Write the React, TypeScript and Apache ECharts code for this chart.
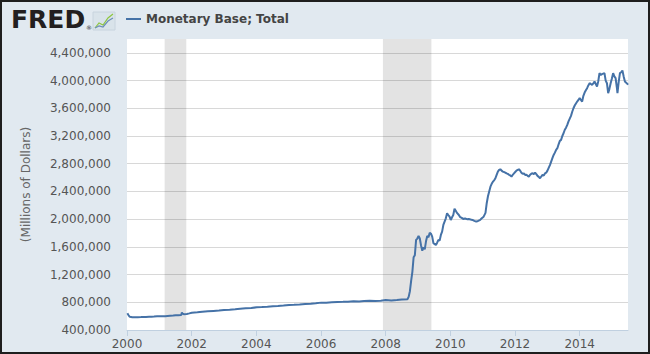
import React, { useEffect, useRef } from "react";
import * as echarts from "echarts";

const seriesName = "Monetary Base; Total";
const yAxisName = "(Millions of Dollars)";

const dates: string[] = [
  "2000-01-05","2000-01-19","2000-02-02","2000-03-01","2000-04-05","2000-05-03","2000-06-07","2000-07-05","2000-08-02","2000-09-06","2000-10-04","2000-11-01","2000-12-06",
  "2001-01-03","2001-02-07","2001-03-07","2001-04-04","2001-05-02","2001-06-06","2001-07-04","2001-08-01","2001-09-05","2001-09-12","2001-09-19","2001-10-03","2001-11-07","2001-12-05",
  "2002-01-02","2002-03-06","2002-05-01","2002-07-03","2002-09-04","2002-11-06",
  "2003-01-01","2003-03-05","2003-05-07","2003-07-02","2003-09-03","2003-11-05",
  "2004-01-07","2004-03-03","2004-05-05","2004-07-07","2004-09-01","2004-11-03",
  "2005-01-05","2005-03-02","2005-05-04","2005-07-06","2005-09-07","2005-11-02",
  "2006-01-04","2006-03-01","2006-05-03","2006-07-05","2006-09-06","2006-11-01",
  "2007-01-03","2007-03-07","2007-05-02","2007-07-04","2007-09-05","2007-11-07",
  "2008-01-02","2008-03-05","2008-05-07","2008-07-02","2008-09-03","2008-09-17","2008-10-01","2008-10-15","2008-10-29","2008-11-12","2008-11-26","2008-12-10","2008-12-24",
  "2009-01-07","2009-01-21","2009-02-04","2009-02-18","2009-03-04","2009-03-18","2009-04-01","2009-04-15","2009-04-29","2009-05-13","2009-05-27","2009-06-10","2009-06-24",
  "2009-07-08","2009-07-22","2009-08-05","2009-08-19","2009-09-02","2009-09-16","2009-09-30","2009-10-14","2009-10-28","2009-11-11","2009-11-25","2009-12-09","2009-12-23",
  "2010-01-06","2010-01-20","2010-02-03","2010-02-17","2010-03-03","2010-03-17","2010-04-07","2010-04-21","2010-05-05","2010-05-26","2010-06-16","2010-07-07","2010-07-28",
  "2010-08-18","2010-09-08","2010-09-29","2010-10-20","2010-11-10","2010-12-01","2010-12-22",
  "2011-01-12","2011-02-02","2011-02-16","2011-03-02","2011-03-16","2011-03-30","2011-04-13","2011-04-27","2011-05-11","2011-05-25","2011-06-08","2011-06-22","2011-07-06",
  "2011-07-20","2011-08-03","2011-08-17","2011-08-31","2011-09-14","2011-09-28","2011-10-12","2011-10-26","2011-11-09","2011-11-23","2011-12-07","2011-12-21",
  "2012-01-04","2012-01-18","2012-02-01","2012-02-15","2012-02-29","2012-03-14","2012-03-28","2012-04-11","2012-04-25","2012-05-09","2012-05-23","2012-06-06","2012-06-20",
  "2012-07-04","2012-07-18","2012-08-01","2012-08-15","2012-08-29","2012-09-12","2012-09-26","2012-10-10","2012-10-24","2012-11-07","2012-11-21","2012-12-05","2012-12-19",
  "2013-01-02","2013-01-16","2013-01-30","2013-02-13","2013-02-27","2013-03-13","2013-03-27","2013-04-10","2013-04-24","2013-05-08","2013-05-22","2013-06-05","2013-06-19",
  "2013-07-03","2013-07-17","2013-07-31","2013-08-14","2013-08-28","2013-09-11","2013-09-25","2013-10-09","2013-10-23","2013-11-06","2013-11-20","2013-12-04","2013-12-18",
  "2014-01-01","2014-01-15","2014-01-29","2014-02-12","2014-02-26","2014-03-12","2014-03-26","2014-04-09","2014-04-23","2014-05-07","2014-05-21","2014-06-04","2014-06-18",
  "2014-07-02","2014-07-16","2014-07-30","2014-08-13","2014-08-27","2014-09-10","2014-09-24","2014-10-08","2014-10-22","2014-11-05","2014-11-19","2014-12-03","2014-12-17","2014-12-31",
  "2015-01-14","2015-01-28","2015-02-11","2015-02-25","2015-03-04","2015-03-18","2015-04-01","2015-04-15","2015-04-29","2015-05-13","2015-05-27","2015-06-10","2015-06-24","2015-07-01"
];

const values: number[] = [
  641000,612000,590000,584000,583000,585000,586000,589000,588000,590000,591000,594000,598000,
  600000,598000,600000,603000,606000,609000,612000,614000,616000,652000,638000,628000,632000,640000,
  650000,655000,662000,670000,675000,680000,
  690000,694000,700000,708000,713000,718000,
  728000,731000,737000,744000,748000,754000,
  762000,763000,768000,775000,779000,785000,
  795000,794000,800000,805000,806000,808000,
  816000,813000,818000,822000,820000,823000,
  832000,827000,832000,840000,845000,878000,960000,1110000,1240000,1450000,1480000,1700000,1720000,
  1757000,1720000,1620000,1545000,1594000,1565000,1680000,1757000,1740000,1805000,1790000,1747000,1652000,
  1640000,1627000,1660000,1700000,1690000,1772000,1820000,1916000,1964000,2012000,2085000,2060000,2036000,
  1988000,2027000,2060000,2150000,2120000,2090000,2060000,2030000,2022000,2003000,2010000,2000000,2003000,
  1995000,1988000,1975000,1964000,1974000,1985000,2013000,
  2036000,2090000,2230000,2330000,2400000,2469000,2510000,2541000,2560000,2590000,2640000,2686000,2710000,
  2720000,2700000,2686000,2680000,2671000,2660000,2653000,2640000,2630000,2614000,2640000,2660000,
  2680000,2700000,2710000,2720000,2700000,2670000,2653000,2660000,2638000,2640000,2625000,2614000,2640000,
  2655000,2663000,2650000,2672000,2650000,2624000,2610000,2590000,2615000,2638000,2630000,2660000,2671000,
  2700000,2740000,2780000,2830000,2880000,2927000,2960000,3000000,3024000,3080000,3130000,3144000,3200000,
  3240000,3290000,3320000,3360000,3410000,3450000,3490000,3550000,3601000,3640000,3670000,3697000,3720000,
  3746000,3720000,3697000,3780000,3827000,3860000,3890000,3930000,3962000,3950000,3938000,3960000,3986000,
  3950000,3914000,3990000,4107000,4080000,4093000,4100000,4107000,4000000,3962000,3818000,3880000,3962000,4030000,
  4107000,4060000,4035000,3900000,3818000,3980000,4107000,4120000,4145000,4060000,3986000,3970000,3952000,3940000
];

const recessions: [string, string][] = [
  ["2001-03-01", "2001-11-01"],
  ["2007-12-01", "2009-06-01"],
];

const xMin = "2000-01-01";
const xMax = "2015-07-01";
const yMin = 400000;
const yMax = 4600000;
const yStep = 400000;

export default function App() {
  const ref = useRef<HTMLDivElement>(null);
  useEffect(() => {
    if (!ref.current) return;
    const chart = echarts.init(ref.current, null, { renderer: "svg" });
    const font = "DejaVu Sans";
    const data = dates.map((d, i) => [d, values[i]]);
    chart.setOption({
      animation: false,
      backgroundColor: "#e1e9f0",
      textStyle: { fontFamily: font },
      grid: {
        left: 127, right: 22, top: 39, bottom: 24,
        show: true, backgroundColor: "#ffffff", borderWidth: 0,
      },
      legend: {
        left: 126, top: 13, padding: 0, icon: "rect", itemWidth: 15, itemHeight: 2,
        itemGap: 10,
        selectedMode: false,
        textStyle: { fontFamily: font, fontWeight: "bold", fontSize: 12, color: "#444" },
        data: [seriesName],
      },
      xAxis: {
        type: "time",
        min: xMin, max: xMax,
        minInterval: 2 * 365 * 24 * 3600 * 1000,
        maxInterval: 2 * 366 * 24 * 3600 * 1000,
        axisLine: { show: true, lineStyle: { color: "#c0d0e0", width: 1 } },
        axisTick: { show: true, length: 6, lineStyle: { color: "#c0d0e0" } },
        splitLine: { show: false },
        axisLabel: {
          color: "#555", fontSize: 12, fontFamily: font, margin: 8,
          showMaxLabel: false,
          formatter: (v: number) => String(new Date(v).getFullYear()),
        },
      },
      yAxis: {
        type: "value",
        min: yMin, max: yMax, interval: yStep,
        name: yAxisName, nameLocation: "middle", nameGap: 95, nameRotate: 90,
        nameTextStyle: { color: "#666", fontSize: 12, fontFamily: font },
        axisLine: { show: false },
        axisTick: { show: false },
        splitLine: { show: true, showMaxLine: false, lineStyle: { color: "#d8d8d8", width: 1 } },
        axisLabel: {
          color: "#555", fontSize: 12, fontFamily: font, margin: 16,
          showMaxLabel: false,
          formatter: (v: number) => v.toLocaleString("en-US"),
        },
      },
      series: [
        {
          name: seriesName,
          type: "line",
          data,
          showSymbol: false,
          symbol: "none",
          color: "#4572a7",
          lineStyle: { color: "#4572a7", width: 2 },
          markArea: {
            silent: true,
            itemStyle: { color: "rgba(0,0,0,0.11)" },
            data: recessions.map(([a, b]) => [{ xAxis: a }, { xAxis: b }]),
          },
        },
      ],
      graphic: [
        {
          type: "text", left: 11, top: 7,
          style: { text: "FRED", font: "bold 25px 'DejaVu Sans'", fill: "#231f20" },
        },
        {
          type: "text", left: 86, top: 24,
          style: { text: "®", font: "6px 'DejaVu Sans'", fill: "#231f20" },
        },
        {
          type: "rect", shape: { x: 93, y: 12, width: 22, height: 18 },
          style: { fill: "#d9e3ea", stroke: "#c8d4de", lineWidth: 1 },
        },
        {
          type: "polyline",
          shape: { points: [[95, 28], [99, 23], [103, 25], [108, 18], [113, 14]] },
          style: { fill: null, stroke: "#8dc63f", lineWidth: 1.2 },
        },
        {
          type: "polyline",
          shape: { points: [[95, 28], [99, 26], [103, 27], [108, 21], [113, 18]] },
          style: { fill: null, stroke: "#6d8fb8", lineWidth: 1.2 },
        },
        {
          type: "rect", shape: { x: 1, y: 1, width: 648, height: 352 }, z: 100,
          style: { fill: null, stroke: "#1e1e1e", lineWidth: 2 },
        },
      ],
    });
    return () => chart.dispose();
  }, []);
  return (
    <div
      ref={ref}
      style={{ position: "absolute", left: 0, top: 0, width: 650, height: 354 }}
    />
  );
}
